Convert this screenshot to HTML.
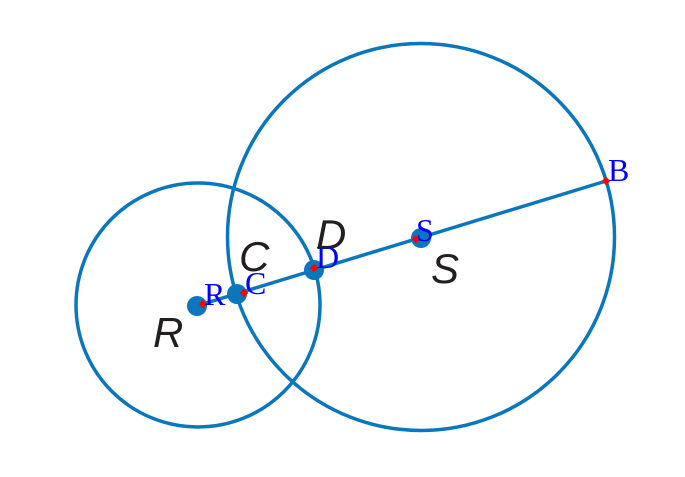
<!DOCTYPE html>
<html><head><meta charset="utf-8"><style>
html,body{margin:0;padding:0;background:#fff;}
svg{display:block}
.big{font-family:"Liberation Sans",sans-serif;font-style:italic;font-size:42px;fill:#231f20}
.lab{font-family:"Liberation Serif",serif;font-size:32px;fill:#0000ff}
</style></head><body>
<svg width="685" height="477" viewBox="0 0 685 477">
<circle cx="198" cy="305" r="122" fill="none" stroke="#0a77bd" stroke-width="3.5"/>
<circle cx="421" cy="237" r="193.5" fill="none" stroke="#0a77bd" stroke-width="3.5"/>
<line x1="203" y1="304" x2="606" y2="181" stroke="#0a77bd" stroke-width="3.5"/>
<circle cx="197" cy="306" r="10" fill="#0a77bd"/>
<circle cx="237" cy="294" r="10" fill="#0a77bd"/>
<circle cx="314" cy="270" r="10" fill="#0a77bd"/>
<circle cx="421" cy="238" r="10" fill="#0a77bd"/>
<g fill="#ff0000">
<rect x="200" y="301" width="6" height="6" transform="rotate(45 203 304)"/>
<rect x="241" y="290" width="6" height="6" transform="rotate(45 244 293)"/>
<rect x="311" y="265" width="6" height="6" transform="rotate(45 314 268)"/>
<rect x="413" y="236" width="6" height="6" transform="rotate(45 416 239)"/>
<rect x="603" y="178" width="6" height="6" transform="rotate(45 606 181)"/>
</g>
<text class="big" x="153" y="347">R</text>
<text class="big" x="239" y="271">C</text>
<text class="big" x="316" y="249">D</text>
<text class="big" x="431" y="283">S</text>
<text class="lab" x="204" y="305">R</text>
<text class="lab" x="245" y="294">C</text>
<text class="lab" x="316" y="268">D</text>
<text class="lab" x="416" y="241">S</text>
<text class="lab" x="608" y="181">B</text>
</svg>
</body></html>
